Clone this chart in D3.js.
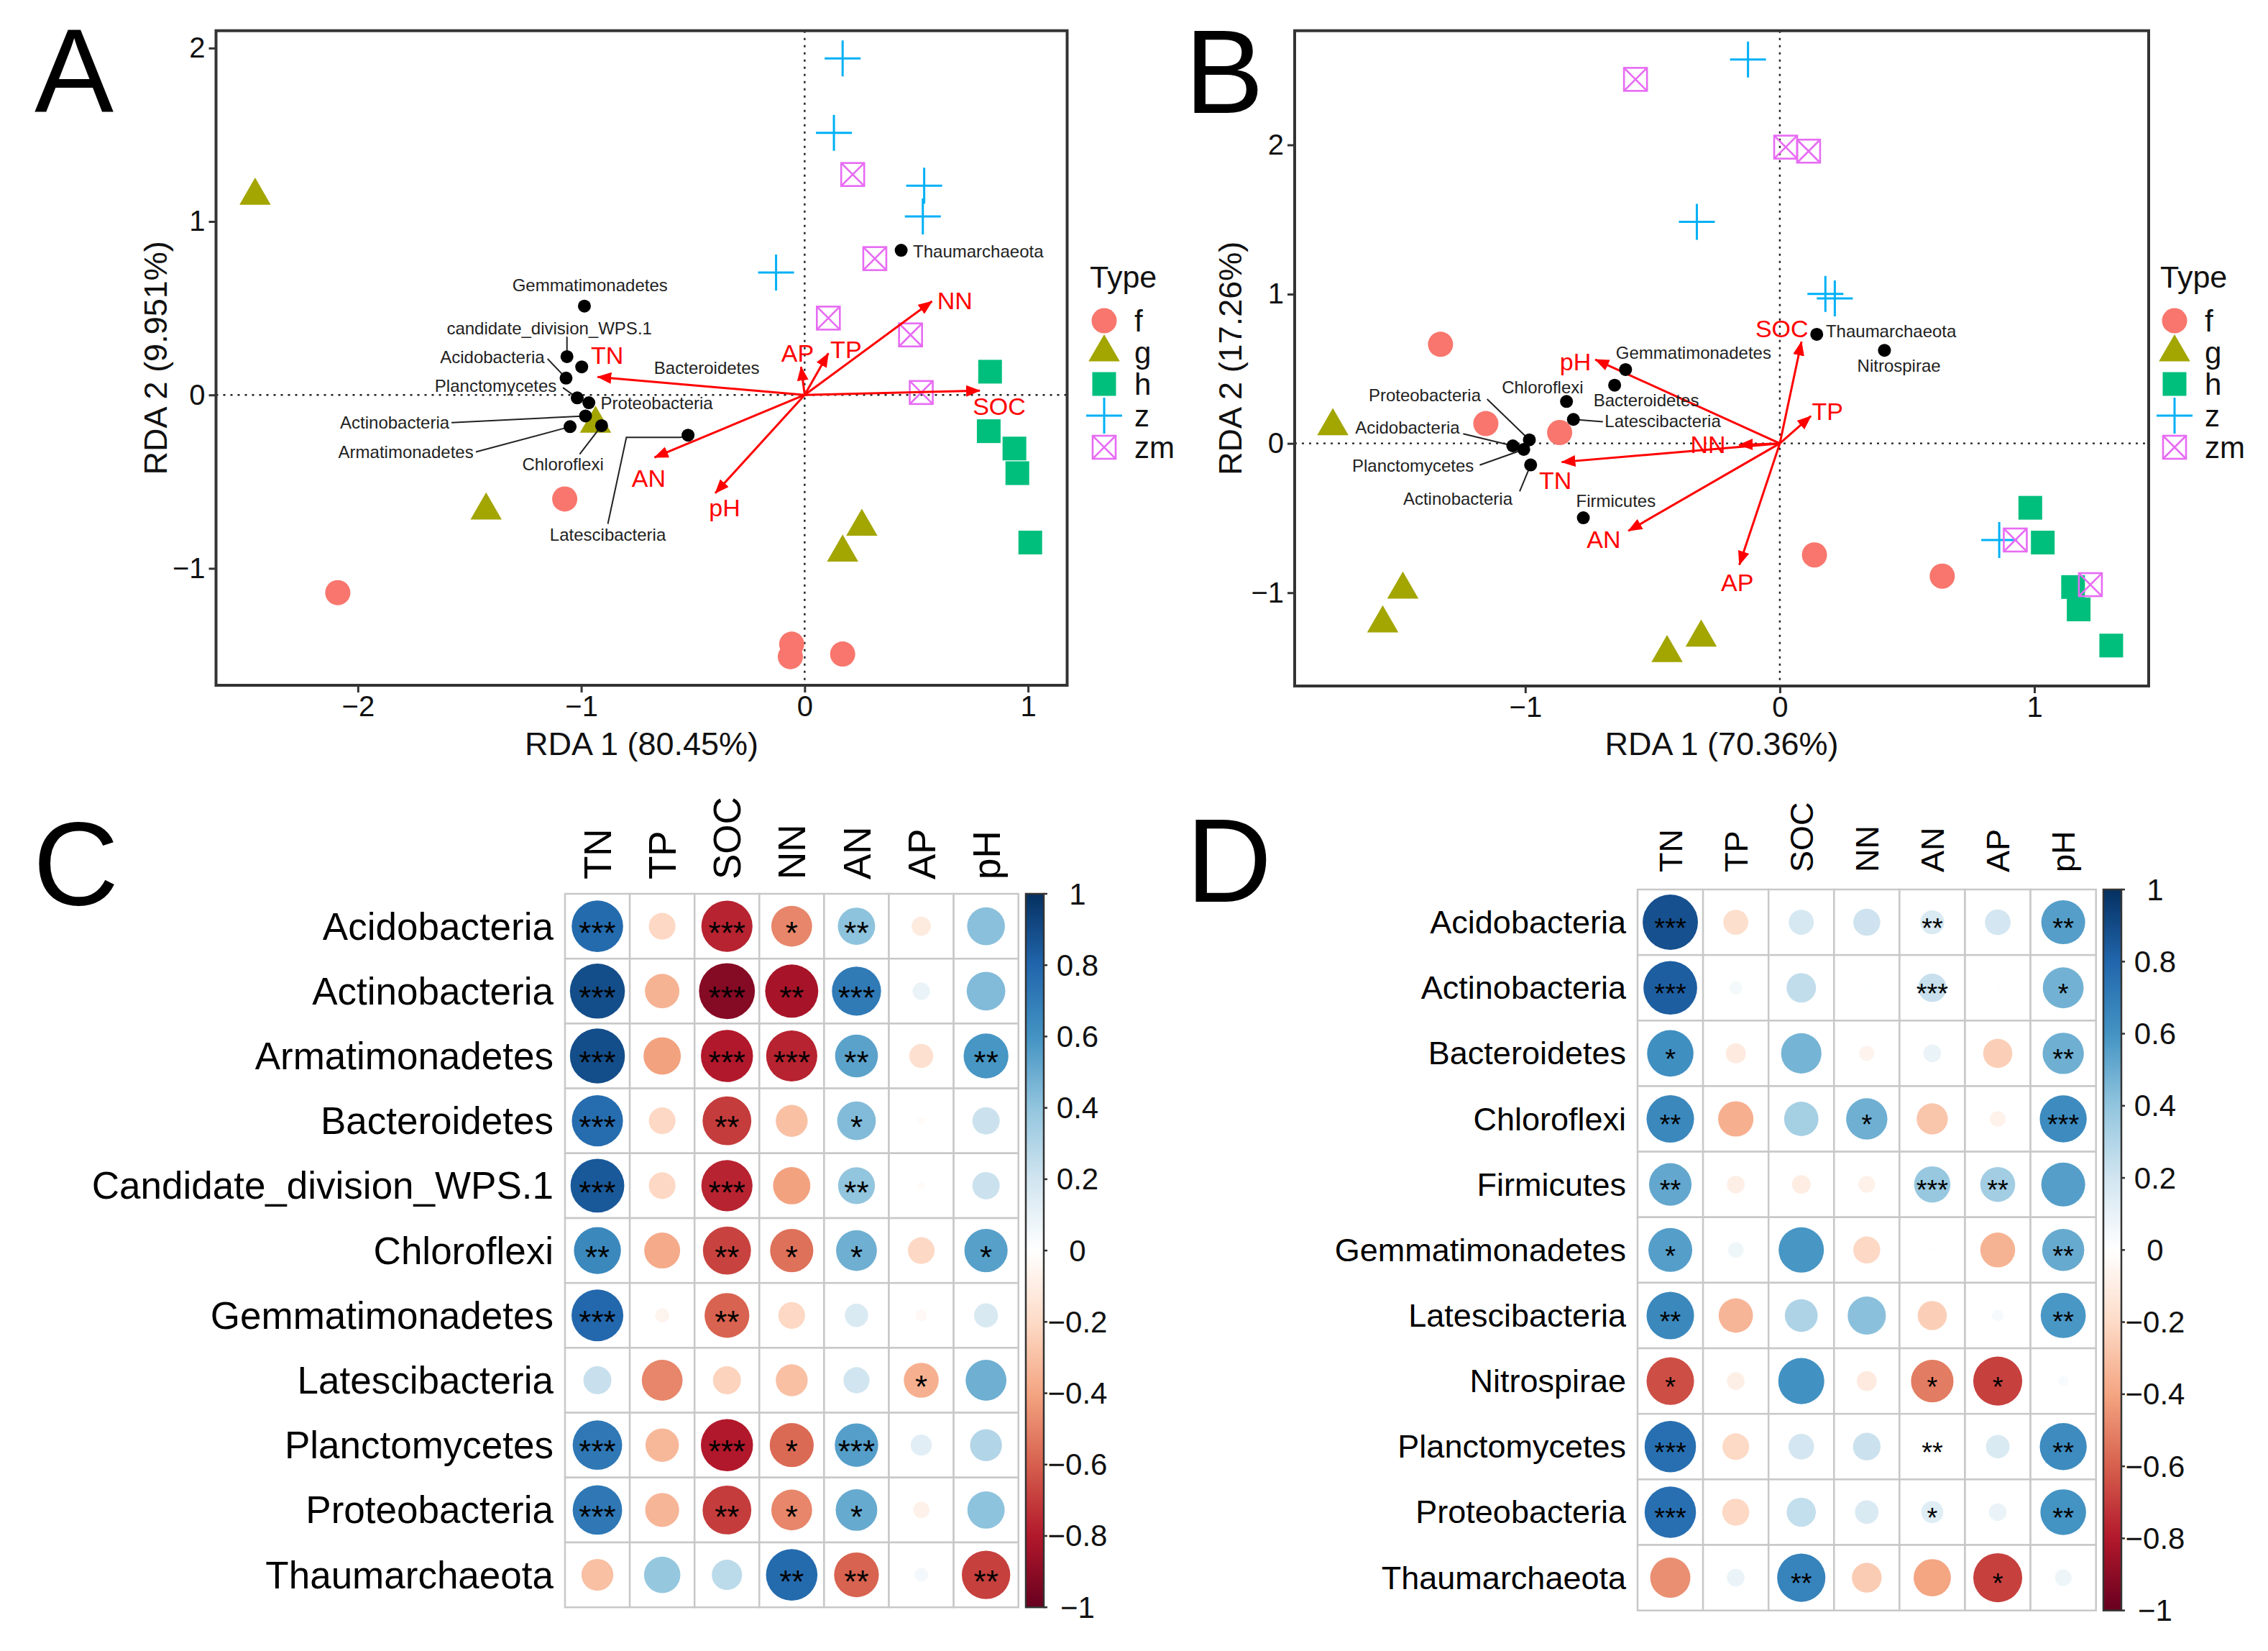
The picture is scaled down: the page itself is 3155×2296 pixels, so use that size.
<!DOCTYPE html>
<html>
<head>
<meta charset="utf-8">
<script src="https://cdn.jsdelivr.net/npm/d3@7"></script>
<style>
  body { margin: 0; background: #fff; }
  svg text { font-family: 'Liberation Sans', Arial, Helvetica, sans-serif; }
</style>
</head>
<body>
<div id="chart"></div>
<script>
// ---------------- data ----------------
const typeLevels = ['f', 'g', 'h', 'z', 'zm']
const typePalette = ['#F8766D', '#A3A500', '#00BF7D', '#00B0F6', '#E76BF3']

// Panel A : RDA site scores [type, RDA1, RDA2]
const sitesA = [
  ['f', -2.09, -1.14], ['f', -1.074, -0.6], ['f', -0.058, -1.437], ['f', -0.064, -1.509], ['f', 0.17, -1.494],
  ['g', -2.46, 1.149], ['g', -1.426, -0.666], ['g', -0.936, -0.166], ['g', 0.17, -0.909], ['g', 0.256, -0.76],
  ['h', 0.83, 0.134], ['h', 0.824, -0.209], ['h', 0.939, -0.309], ['h', 0.952, -0.451], ['h', 1.01, -0.851],
  ['z', 0.17, 1.94], ['z', 0.131, 1.511], ['z', 0.535, 1.206], ['z', 0.529, 1.029], ['z', -0.128, 0.706],
  ['zm', 0.215, 1.271], ['zm', 0.314, 0.786], ['zm', 0.106, 0.443], ['zm', 0.474, 0.346], ['zm', 0.522, 0.014]
]
// environmental vectors [name, RDA1, RDA2]
const envA = [
  ['TN', -0.927, 0.104], ['AP', -0.016, 0.162], ['TP', 0.106, 0.24], ['NN', 0.57, 0.54],
  ['SOC', 0.784, 0.025], ['AN', -0.672, -0.36], ['pH', -0.4, -0.566]
]
const envLabelA = [[-0.884, 0.231], [-0.032, 0.243], [0.185, 0.263], [0.672, 0.543], [0.871, -0.066], [-0.698, -0.48], [-0.358, -0.651]]
// species scores [name, RDA1, RDA2]
const taxaA = [
  ['Gemmatimonadetes', -0.986, 0.512], ['candidate_division_WPS.1', -1.064, 0.221], ['Bacteroidetes', -0.998, 0.162],
  ['Acidobacteria', -1.068, 0.097], ['Planctomycetes', -1.018, -0.017], ['Proteobacteria', -0.966, -0.045],
  ['Actinobacteria', -0.981, -0.121], ['Armatimonadetes', -1.05, -0.183], ['Chloroflexi', -0.909, -0.177],
  ['Latescibacteria', -0.522, -0.232], ['Thaumarchaeota', 0.432, 0.834]
]
const taxaLabelA = [[-0.961, 0.632], [-1.143, 0.383], [-0.438, 0.158], [-1.398, 0.217], [-1.383, 0.051], [-0.662, -0.045],
  [-1.835, -0.16], [-1.785, -0.329], [-1.082, -0.398], [-0.881, -0.805], [0.777, 0.826]]
const taxaLeaderA = [null, [[-1.064, 0.336]], null, [[-1.151, 0.208]], [[-1.082, 0.042]], null,
  [[-1.581, -0.16]], [[-1.472, -0.329]], [[-1.007, -0.342]], [[-0.881, -0.743], [-0.798, -0.245], [-0.555, -0.245]], null]

// Panel B
const sitesB = [
  ['f', -1.333, 0.664], ['f', -1.155, 0.133], ['f', -0.865, 0.073], ['f', 0.136, -0.747], ['f', 0.638, -0.889],
  ['g', -1.756, 0.116], ['g', -1.481, -0.979], ['g', -1.56, -1.205], ['g', -0.443, -1.404], ['g', -0.309, -1.301],
  ['h', 0.984, -0.431], ['h', 1.033, -0.664], ['h', 1.152, -0.962], ['h', 1.174, -1.112], ['h', 1.302, -1.354],
  ['z', -0.125, 2.572], ['z', -0.326, 1.484], ['z', 0.179, 1.002], ['z', 0.216, 0.972], ['z', 0.862, -0.647],
  ['zm', -0.567, 2.439], ['zm', 0.023, 1.985], ['zm', 0.113, 1.958], ['zm', 0.925, -0.647], ['zm', 1.22, -0.946]
]
const envB = [
  ['SOC', 0.085, 0.681], ['pH', -0.725, 0.562], ['TP', 0.122, 0.183], ['NN', -0.16, -0.01],
  ['TN', -0.857, -0.125], ['AN', -0.595, -0.586], ['AP', -0.159, -0.813]
]
const envLabelB = [[0.008, 0.77], [-0.803, 0.546], [0.187, 0.216], [-0.282, -0.005], [-0.882, -0.249], [-0.692, -0.642], [-0.167, -0.929]]
const taxaB = [
  ['Thaumarchaeota', 0.145, 0.731], ['Nitrospirae', 0.411, 0.624], ['Gemmatimonadetes', -0.606, 0.495],
  ['Bacteroidetes', -0.649, 0.39], ['Chloroflexi', -0.838, 0.281], ['Latescibacteria', -0.811, 0.161],
  ['Proteobacteria', -0.984, 0.024], ['Acidobacteria', -1.049, -0.016], ['Planctomycetes', -1.006, -0.04],
  ['Actinobacteria', -0.979, -0.144], ['Firmicutes', -0.772, -0.498]
]
const taxaLabelB = [[0.437, 0.753], [0.468, 0.521], [-0.339, 0.607], [-0.525, 0.289], [-0.932, 0.378], [-0.46, 0.15],
  [-1.395, 0.325], [-1.463, 0.105], [-1.441, -0.147], [-1.265, -0.369], [-0.644, -0.385]]
const taxaLeaderB = [null, null, null, null, null, [[-0.695, 0.145]], [[-1.15, 0.297]], [[-1.244, 0.065]],
  [[-1.179, -0.145]], [[-1.022, -0.321]], null]

// Panels C / D : correlations
const corrVars = ['TN', 'TP', 'SOC', 'NN', 'AN', 'AP', 'pH']
const taxaC = ['Acidobacteria', 'Actinobacteria', 'Armatimonadetes', 'Bacteroidetes', 'Candidate_division_WPS.1',
  'Chloroflexi', 'Gemmatimonadetes', 'Latescibacteria', 'Planctomycetes', 'Proteobacteria', 'Thaumarchaeota']
const corrC = [
  [0.78, -0.21, -0.77, -0.49, 0.41, -0.11, 0.42],
  [0.89, -0.35, -0.92, -0.83, 0.71, 0.09, 0.44],
  [0.89, -0.41, -0.8, -0.77, 0.54, -0.17, 0.59],
  [0.77, -0.21, -0.7, -0.3, 0.44, -0.02, 0.22],
  [0.85, -0.21, -0.77, -0.41, 0.4, -0.02, 0.22],
  [0.65, -0.38, -0.68, -0.55, 0.49, -0.21, 0.55],
  [0.79, -0.06, -0.59, -0.21, 0.16, -0.04, 0.17],
  [0.23, -0.49, -0.23, -0.3, 0.2, -0.36, 0.49],
  [0.72, -0.33, -0.8, -0.57, 0.555, 0.13, 0.3],
  [0.72, -0.34, -0.7, -0.49, 0.51, -0.08, 0.41],
  [-0.3, 0.39, 0.27, 0.78, -0.59, 0.055, -0.69]
]
const sigC = [
  ['***', '', '***', '*', '**', '', ''],
  ['***', '', '***', '**', '***', '', ''],
  ['***', '', '***', '***', '**', '', '**'],
  ['***', '', '**', '', '*', '', ''],
  ['***', '', '***', '', '**', '', ''],
  ['**', '', '**', '*', '*', '', '*'],
  ['***', '', '**', '', '', '', ''],
  ['', '', '', '', '', '*', ''],
  ['***', '', '***', '*', '***', '', ''],
  ['***', '', '**', '*', '*', '', ''],
  ['', '', '', '**', '**', '', '**']
]
const taxaD = ['Acidobacteria', 'Actinobacteria', 'Bacteroidetes', 'Chloroflexi', 'Firmicutes', 'Gemmatimonadetes',
  'Latescibacteria', 'Nitrospirae', 'Planctomycetes', 'Proteobacteria', 'Thaumarchaeota']
const corrD = [
  [0.88, -0.18, 0.18, 0.21, 0.165, 0.19, 0.555],
  [0.83, 0.05, 0.25, 0.01, 0.23, 0.01, 0.48],
  [0.62, -0.115, 0.47, -0.065, 0.09, -0.245, 0.49],
  [0.65, -0.36, 0.34, 0.49, -0.28, -0.07, 0.635],
  [0.52, -0.09, -0.1, -0.08, 0.38, 0.35, 0.555],
  [0.555, 0.07, 0.59, -0.21, 0.01, -0.35, 0.51],
  [0.65, -0.34, 0.31, 0.42, -0.245, 0.04, 0.585],
  [-0.65, -0.09, 0.61, -0.115, -0.52, -0.69, 0.03],
  [0.76, -0.205, 0.19, 0.22, 0.02, 0.16, 0.635],
  [0.76, -0.21, 0.245, 0.16, 0.14, 0.09, 0.6],
  [-0.465, 0.09, 0.67, -0.255, -0.4, -0.69, 0.08]
]
const sigD = [
  ['***', '', '', '', '**', '', '**'],
  ['***', '', '', '', '***', '', '*'],
  ['*', '', '', '', '', '', '**'],
  ['**', '', '', '*', '', '', '***'],
  ['**', '', '', '', '***', '**', ''],
  ['*', '', '', '', '', '', '**'],
  ['**', '', '', '', '', '', '**'],
  ['*', '', '', '', '*', '*', ''],
  ['***', '', '', '', '**', '', '**'],
  ['***', '', '', '', '*', '', '**'],
  ['', '', '**', '', '', '*', '']
]
const legendTicks = [1, 0.8, 0.6, 0.4, 0.2, 0, -0.2, -0.4, -0.6, -0.8, -1]
const rdBu = ['#67001F', '#B2182B', '#D6604D', '#F4A582', '#FDDBC7', '#FFFFFF', '#D1E5F0', '#92C5DE', '#4393C3', '#2166AC', '#053061']

// ---------------- chart ----------------
const width = 3155, height = 2296
const svg = d3.select('#chart').append('svg').attr('width', width).attr('height', height)
svg.append('rect').attr('width', width).attr('height', height).attr('fill', '#fff')

const defs = svg.append('defs')
defs.append('marker')
  .attr('id', 'arrowRed')
  .attr('viewBox', '0 0 20 16')
  .attr('refX', 19).attr('refY', 8)
  .attr('markerWidth', 20).attr('markerHeight', 16)
  .attr('markerUnits', 'userSpaceOnUse')
  .attr('orient', 'auto')
  .append('path').attr('d', 'M0,0 L20,8 L0,16 Z').attr('fill', '#FF0000')

const typeColor = d3.scaleOrdinal().domain(typeLevels).range(typePalette)
const tickFmt = d3.format('~g')

// ggplot-like point shapes
const drawShape = (g, type, cx, cy) => {
  const col = typeColor(type)
  if (type === 'f') {
    g.append('circle').attr('cx', cx).attr('cy', cy).attr('r', 17.5).attr('fill', col)
  } else if (type === 'g') {
    g.append('path').attr('d', d3.symbol(d3.symbolTriangle, 820)())
      .attr('transform', `translate(${cx},${cy})`).attr('fill', col)
  } else if (type === 'h') {
    g.append('rect').attr('x', cx - 16.5).attr('y', cy - 16.5).attr('width', 33).attr('height', 33).attr('fill', col)
  } else if (type === 'z') {
    g.append('path').attr('d', `M${cx - 25},${cy}H${cx + 25}M${cx},${cy - 25}V${cy + 25}`)
      .attr('stroke', col).attr('stroke-width', 3).attr('fill', 'none')
  } else {
    g.append('rect').attr('x', cx - 16).attr('y', cy - 16).attr('width', 32).attr('height', 32)
      .attr('fill', 'none').attr('stroke', col).attr('stroke-width', 2.6)
    g.append('path').attr('d', `M${cx - 16},${cy - 16}L${cx + 16},${cy + 16}M${cx + 16},${cy - 16}L${cx - 16},${cy + 16}`)
      .attr('stroke', col).attr('stroke-width', 2.6)
  }
}

const drawRDA = (o) => {
  const g = svg.append('g')
  const x = d3.scaleLinear().domain(o.xDomain).range([o.left, o.right])
  const y = d3.scaleLinear().domain(o.yDomain).range([o.bottom, o.top])

  // zero lines
  g.append('line').attr('x1', x(0)).attr('x2', x(0)).attr('y1', o.top).attr('y2', o.bottom)
    .attr('stroke', '#222').attr('stroke-width', 2.4).attr('stroke-dasharray', '3,7')
  g.append('line').attr('x1', o.left).attr('x2', o.right).attr('y1', y(0)).attr('y2', y(0))
    .attr('stroke', '#222').attr('stroke-width', 2.4).attr('stroke-dasharray', '3,7')

  // sites
  o.sites.forEach((d) => drawShape(g, d[0], x(d[1]), y(d[2])))

  // env arrows
  o.env.forEach((d, i) => {
    g.append('line').attr('x1', x(0)).attr('y1', y(0)).attr('x2', x(d[1])).attr('y2', y(d[2]))
      .attr('stroke', '#FF0000').attr('stroke-width', 3).attr('marker-end', 'url(#arrowRed)')
    g.append('text').attr('x', x(o.envLabel[i][0])).attr('y', y(o.envLabel[i][1]))
      .attr('text-anchor', 'middle').attr('dominant-baseline', 'central')
      .attr('font-size', 34).attr('fill', '#FF0000').text(d[0])
  })

  // leaders, dots, labels
  o.taxa.forEach((d, i) => {
    const lead = o.leader[i]
    if (lead) {
      const pts = lead.concat([[d[1], d[2]]]).map((p) => [x(p[0]), y(p[1])])
      g.append('path').attr('d', d3.line()(pts)).attr('fill', 'none').attr('stroke', '#222').attr('stroke-width', 2)
    }
  })
  o.taxa.forEach((d) => {
    g.append('circle').attr('cx', x(d[1])).attr('cy', y(d[2])).attr('r', 9).attr('fill', '#000')
  })
  o.taxa.forEach((d, i) => {
    g.append('text').attr('x', x(o.taxaLabel[i][0])).attr('y', y(o.taxaLabel[i][1]))
      .attr('text-anchor', 'middle').attr('dominant-baseline', 'central')
      .attr('font-size', 24).attr('fill', '#222').text(d[0])
  })

  // frame
  g.append('rect').attr('x', o.left).attr('y', o.top).attr('width', o.right - o.left).attr('height', o.bottom - o.top)
    .attr('fill', 'none').attr('stroke', '#333').attr('stroke-width', 4)

  const styleAxis = (ax) => {
    ax.select('.domain').remove()
    ax.selectAll('.tick line').attr('stroke', '#333').attr('stroke-width', 3)
    ax.selectAll('.tick text').attr('fill', '#111').attr('font-size', 40)
      .attr('font-family', "'Liberation Sans', Arial, sans-serif")
  }
  g.append('g').attr('transform', `translate(0,${o.bottom})`)
    .call(d3.axisBottom(x).tickValues(o.xTicks).tickFormat(tickFmt).tickSize(10).tickPadding(5).tickSizeOuter(0))
    .call(styleAxis)
  g.append('g').attr('transform', `translate(${o.left},0)`)
    .call(d3.axisLeft(y).tickValues(o.yTicks).tickFormat(tickFmt).tickSize(10).tickPadding(5).tickSizeOuter(0))
    .call(styleAxis)

  g.append('text').attr('x', (o.left + o.right) / 2).attr('y', 1050).attr('text-anchor', 'middle')
    .attr('font-size', 45).attr('fill', '#111').text(o.xTitle)
  g.append('text').attr('transform', `translate(${o.yTitleX},${(o.top + o.bottom) / 2}) rotate(-90)`)
    .attr('text-anchor', 'middle').attr('font-size', 45).attr('fill', '#111').text(o.yTitle)

  // legend
  const lg = g.append('g')
  lg.append('text').attr('x', o.legendX).attr('y', 400).attr('font-size', 43).attr('fill', '#111').text('Type')
  typeLevels.forEach((t, i) => {
    const ky = 446 + i * 44
    drawShape(lg, t, o.legendX + 20, ky)
    lg.append('text').attr('x', o.legendX + 62).attr('y', ky).attr('dominant-baseline', 'central')
      .attr('font-size', 42).attr('fill', '#111').text(t)
  })
}

drawRDA({
  left: 300.5, right: 1484.5, top: 42.7, bottom: 953,
  xDomain: [-2.635, 1.175], yDomain: [-1.674, 2.1],
  xTicks: [-2, -1, 0, 1], yTicks: [-1, 0, 1, 2],
  sites: sitesA, env: envA, envLabel: envLabelA,
  taxa: taxaA, taxaLabel: taxaLabelA, leader: taxaLeaderA,
  xTitle: 'RDA 1 (80.45%)', yTitle: 'RDA 2 (9.951%)', yTitleX: 232, legendX: 1516
})
drawRDA({
  left: 1801, right: 2989, top: 42.7, bottom: 954,
  xDomain: [-1.906, 1.449], yDomain: [-1.625, 2.765],
  xTicks: [-1, 0, 1], yTicks: [-1, 0, 1, 2],
  sites: sitesB, env: envB, envLabel: envLabelB,
  taxa: taxaB, taxaLabel: taxaLabelB, leader: taxaLeaderB,
  xTitle: 'RDA 1 (70.36%)', yTitle: 'RDA 2 (17.26%)', yTitleX: 1727, legendX: 3005
})

// ---------------- corrplots ----------------
const corrColor = d3.scaleLinear().domain(d3.range(11).map((i) => -1 + i * 0.2)).range(rdBu)

defs.append('linearGradient').attr('id', 'rdbuGrad').attr('x1', 0).attr('y1', 1).attr('x2', 0).attr('y2', 0)
  .selectAll('stop').data(rdBu).join('stop')
  .attr('offset', (d, i) => i / 10).attr('stop-color', (d) => d)

const drawCorr = (o) => {
  const g = svg.append('g')
  const x = d3.scaleBand().domain(corrVars).range([o.left, o.left + o.cw * corrVars.length])
  const y = d3.scaleBand().domain(o.taxa).range([o.top, o.top + o.ch * o.taxa.length])
  const cell = Math.min(o.cw, o.ch)

  o.taxa.forEach((t) => {
    corrVars.forEach((v) => {
      g.append('rect').attr('x', x(v)).attr('y', y(t)).attr('width', o.cw).attr('height', o.ch)
        .attr('fill', '#fff').attr('stroke', '#c8c8c8').attr('stroke-width', 2.5)
    })
  })
  o.taxa.forEach((t, i) => {
    corrVars.forEach((v, j) => {
      const r = o.values[i][j]
      const cx = x(v) + o.cw / 2, cy = y(t) + o.ch / 2
      g.append('circle').attr('cx', cx).attr('cy', cy).attr('r', 0.45 * Math.sqrt(Math.abs(r)) * cell)
        .attr('fill', corrColor(r))
      if (o.sig[i][j]) {
        g.append('text').attr('x', cx).attr('y', cy + 0.56 * o.starSize).attr('text-anchor', 'middle')
          .attr('font-size', o.starSize).attr('fill', '#000').text(o.sig[i][j])
      }
    })
    g.append('text').attr('x', o.left - 16).attr('y', y(t) + o.ch / 2).attr('text-anchor', 'end')
      .attr('dominant-baseline', 'central').attr('font-size', o.fontSize).attr('fill', '#000').text(t)
  })
  corrVars.forEach((v) => {
    g.append('text').attr('transform', `translate(${x(v) + o.cw / 2},${o.colLabelY}) rotate(-90)`)
      .attr('dy', '0.36em').attr('font-size', o.fontSize).attr('fill', '#000').text(v)
  })

  // colour legend
  const gridBottom = o.top + o.ch * o.taxa.length
  const ly = d3.scaleLinear().domain([-1, 1]).range([gridBottom, o.top])
  g.append('rect').attr('x', o.barX).attr('y', o.top).attr('width', 25).attr('height', gridBottom - o.top)
    .attr('fill', 'url(#rdbuGrad)').attr('stroke', '#333').attr('stroke-width', 2.5)
  legendTicks.forEach((t) => {
    g.append('line').attr('x1', o.barX + 25).attr('x2', o.barX + 30).attr('y1', ly(t)).attr('y2', ly(t))
      .attr('stroke', '#333').attr('stroke-width', 2.5)
    g.append('text').attr('x', o.barX + 72).attr('y', ly(t)).attr('text-anchor', 'middle')
      .attr('dominant-baseline', 'central').attr('font-size', 42).attr('fill', '#111')
      .text(tickFmt(t))
  })
}

drawCorr({ left: 786, top: 1243, cw: 90.1, ch: 90.2, taxa: taxaC, values: corrC, sig: sigC,
  fontSize: 53, starSize: 44, colLabelY: 1223, barX: 1427 })
drawCorr({ left: 2278, top: 1237, cw: 91.1, ch: 91.15, taxa: taxaD, values: corrD, sig: sigD,
  fontSize: 45, starSize: 38, colLabelY: 1213, barX: 2926 })

// panel letters
const panelLetters = [['A', 48, 155], ['B', 1648, 157], ['C', 46, 1258], ['D', 1650, 1254]]
panelLetters.forEach((p) => {
  svg.append('text').attr('x', p[1]).attr('y', p[2]).attr('font-size', 165).attr('fill', '#000').text(p[0])
})
</script>
</body>
</html>
